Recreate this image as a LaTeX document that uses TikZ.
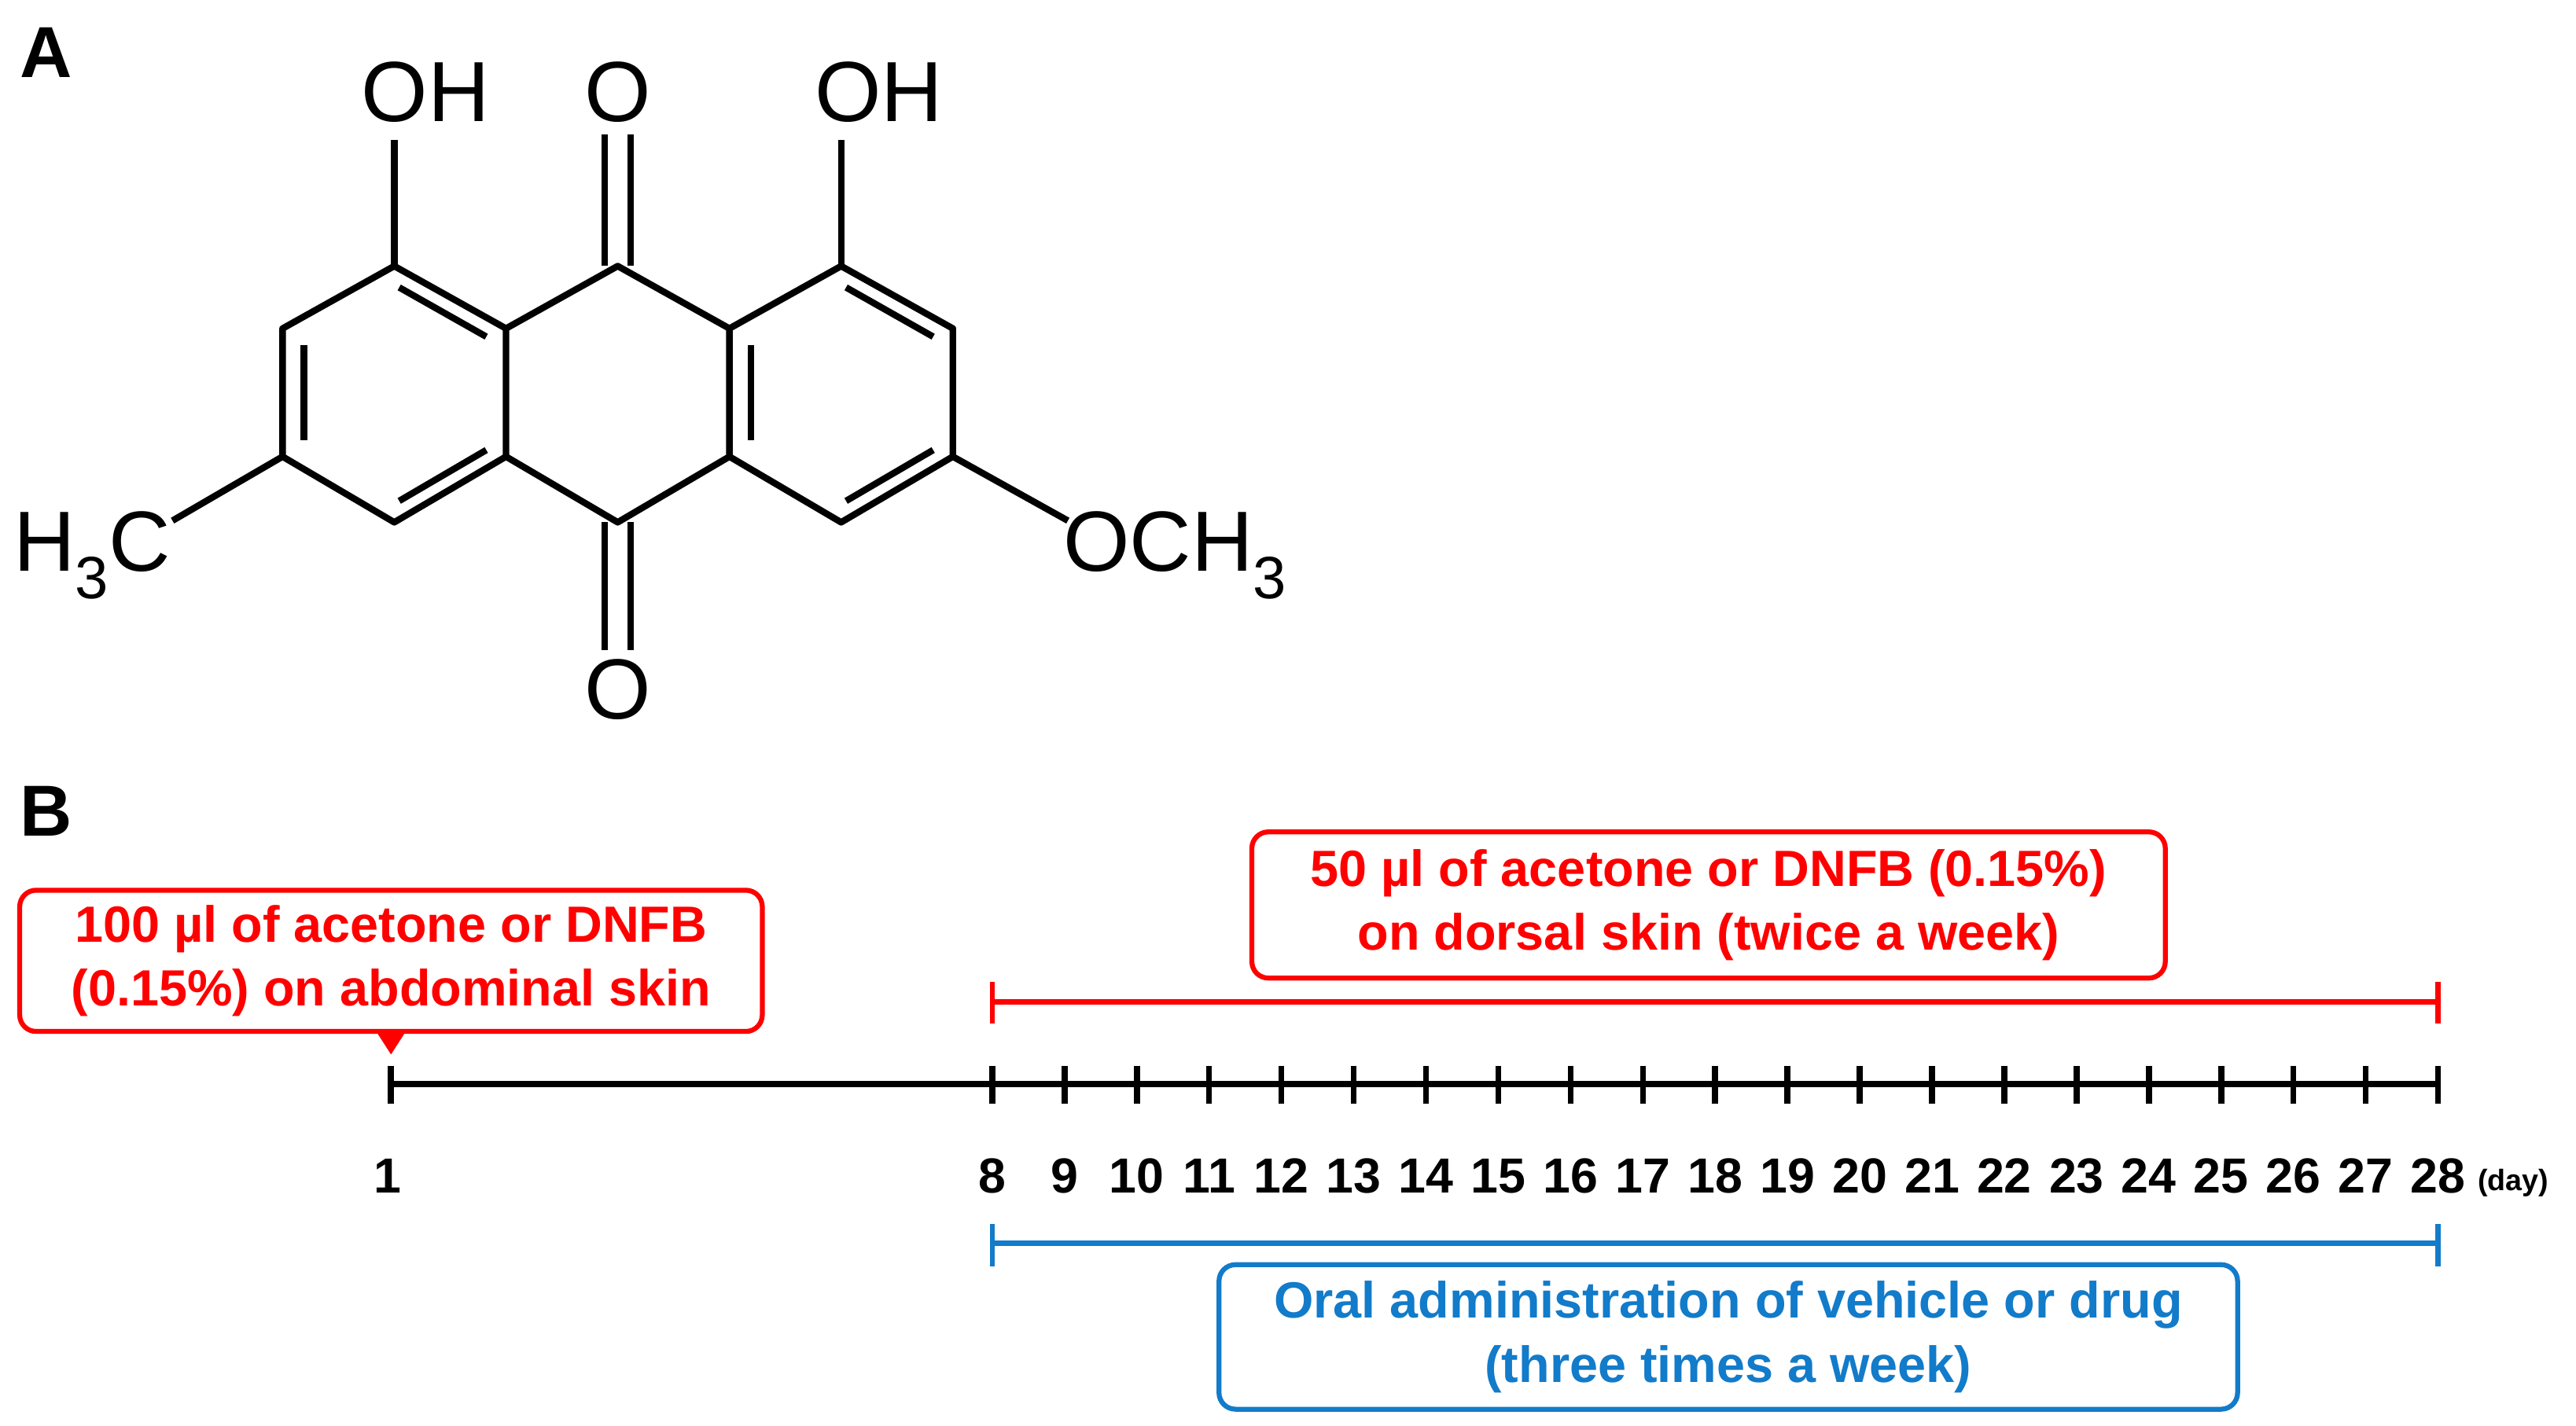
\documentclass[tikz,border=0pt]{standalone}
\usepackage{fontspec}
\setmainfont{Liberation Sans}
\begin{document}
\begin{tikzpicture}[x=1pt,y=-1pt,
 bond/.style={line width=4pt},
 chem/.style={font=\fontsize{52}{52}\selectfont,inner sep=0pt},
 lbl/.style={font=\bfseries\fontsize{31}{39}\selectfont,align=center},
 day/.style={font=\bfseries\fontsize{30}{30}\selectfont,inner sep=0pt},
 rbox/.style={draw=red,line width=3pt,rounded corners=10pt,text=red,lbl,inner sep=0pt},
 bbox/.style={draw=cyan!60!blue,line width=3pt,rounded corners=10pt,text=cyan!60!blue,lbl,inner sep=0pt},
 tick/.style={line width=3.6pt}]
\useasboundingbox (0,0) rectangle (1568,868);
\node[font=\bfseries\fontsize{44}{44}\selectfont] (A) at (28,32) {A};
\node[font=\bfseries\fontsize{44}{44}\selectfont] (B) at (28,494) {B};
% rings
\foreach \n/\x/\y in {a1/240/162,a2/308/200,a3/308/278,a4/240/318,a5/172/278,a6/172/200,
 c1/376/162,c4/376/318,b1/512/162,b2/580/200,b3/580/278,b4/512/318,b5/444/278,b6/444/200}
 \coordinate (\n) at (\x,\y);
\draw[bond,line join=round] (a1)--(a2)--(a3)--(a4)--(a5)--(a6)--cycle;
\draw[bond,line join=round] (a2)--(c1)--(b6)--(b5)--(c4)--(a3);
\draw[bond,line join=round] (b6)--(b1)--(b2)--(b3)--(b4)--(b5);
% inner double lines
\draw[bond] (185,210)--(185,268);
\draw[bond] (243,175)--(296,205);
\draw[bond] (243,305)--(296,274);
\draw[bond] (457,210)--(457,268);
\draw[bond] (515,175)--(568,205);
\draw[bond] (515,305)--(568,274);
% substituents
\draw[bond] (a1)--(240,85);
\draw[bond] (b1)--(512,85);
\draw[bond] (368,162)--(368,82) (384,162)--(384,82);
\draw[bond] (368,318)--(368,396) (384,318)--(384,396);
\draw[bond] (a5)--(105,317);
\draw[bond] (b3)--(650,317);
\node[chem] (oh1) at (259,56) {OH};
\node[chem] (o1) at (376,56) {O};
\node[chem] (oh2) at (535,56) {OH};
\node[chem] (o2) at (376,420) {O};
\node[chem,anchor=west] (me) at (8,338) {H\textsubscript{3}C};
\node[chem,anchor=west] (ome) at (647,338) {OCH\textsubscript{3}};
% timeline
\coordinate (t1) at (238,660);
\coordinate (t28) at (1484,660);
\draw[line width=4pt] (t1)--(t28);
\draw[tick] (238,649)--(238,672);
\node[day] (d1) at (236,716) {1};
\foreach \d in {8,...,28}{
 \pgfmathsetmacro\xx{604+(\d-8)*44}
 \draw[tick] (\xx,649)--(\xx,672);
 \node[day] at (\xx,716) {\d};
}
\node[font=\bfseries\fontsize{18}{18}\selectfont,anchor=west,inner sep=0pt] (dayl) at (1508,720) {(day)};
% red line
\draw[red,line width=3pt] (604,610)--(1484,610) (604,598)--(604,623) (1484,598)--(1484,623);
% blue line
\draw[cyan!60!blue,line width=3pt] (604,757)--(1484,757) (604,745)--(604,771) (1484,745)--(1484,771);
% boxes
\node[rbox,minimum width=452pt,minimum height=86pt] (r1) at (238,585) {100 µl of acetone or DNFB\\(0.15\%) on abdominal skin};
\fill[red] (229,628)--(247,628)--(238,642)--cycle;
\node[rbox,minimum width=556pt,minimum height=89pt] (r2) at (1040,551) {50 µl of acetone or DNFB (0.15\%)\\on dorsal skin (twice a week)};
\node[bbox,minimum width=620pt,minimum height=88pt] (bl) at (1052,814) {Oral administration of vehicle or drug\\(three times a week)};
\end{tikzpicture}
\end{document}
